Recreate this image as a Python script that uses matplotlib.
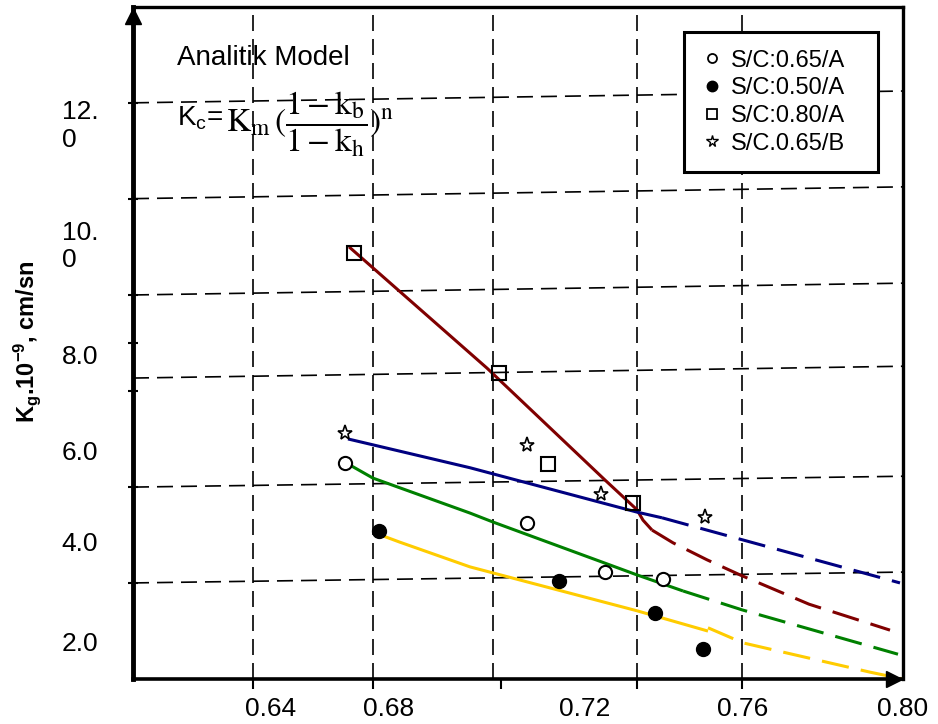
import matplotlib.pyplot as plt
from matplotlib.lines import Line2D

plt.rcParams['font.family'] = ['Liberation Sans', 'DejaVu Sans']
plt.rcParams['mathtext.fontset'] = 'custom'
plt.rcParams['mathtext.rm'] = 'Liberation Sans'
plt.rcParams['mathtext.it'] = 'Liberation Sans:italic'
plt.rcParams['mathtext.bf'] = 'Liberation Sans:bold'

# Deney noktalari
etiketler = ['S/C:0.65/A', 'S/C:0.50/A', 'S/C:0.80/A', 'S/C.0.65/B']
x_bos = [0.6605, 0.7060, 0.7255, 0.7400]
y_bos = [5.77, 4.50, 3.46, 3.31]
x_dolu = [0.6690, 0.7140, 0.7380, 0.7500]
y_dolu = [4.33, 3.27, 2.59, 1.83]
x_kare = [0.6628, 0.6990, 0.7113, 0.7325]
y_kare = [10.22, 7.68, 5.75, 4.92]
x_yildiz = [0.6605, 0.7060, 0.7245, 0.7505]
y_yildiz = [6.41, 6.15, 5.11, 4.63]

# Analitik model egrileri (duz kisim + kesikli uzanti)
x_kirmizi = [0.6615, 0.6960, 0.7255, 0.7335, 0.7350, 0.73725]
y_kirmizi = [10.35, 7.78, 5.41, 4.78, 4.56, 4.35]
x_kirmizi_k = [0.73725, 0.7425, 0.7510, 0.75925, 0.7765, 0.79675]
y_kirmizi_k = [4.35, 4.08, 3.72, 3.40, 2.78, 2.23]
x_mavi = [0.66125, 0.69175, 0.7335, 0.73975]
y_mavi = [6.28, 5.67, 4.73, 4.61]
x_mavi_k = [0.73975, 0.7600, 0.79925]
y_mavi_k = [4.61, 4.14, 3.23]
x_yesil = [0.66125, 0.6675, 0.69175, 0.6975, 0.7335, 0.7450]
y_yesil = [5.75, 5.45, 4.71, 4.52, 3.40, 3.06]
x_yesil_k = [0.7450, 0.75975, 0.79875]
y_yesil_k = [3.06, 2.66, 1.72]
x_sari = [0.66925, 0.6740, 0.69175, 0.7335, 0.75125]
y_sari = [4.25, 4.10, 3.57, 2.64, 2.21]
x_sari_k = [0.75125, 0.7600, 0.79175, 0.8000]
y_sari_k = [2.28, 1.96, 1.34, 1.195]

# Eksen etiketleri ve kilavuz cizgileri
x_etiket_yer = [0.6420, 0.6713, 0.7205, 0.7598, 0.8000]
x_etiket = ['0.64', '0.68', '0.72', '0.76', '0.80']
y_etiket_yer = [13.00, 10.45, 8.06, 6.04, 4.10, 1.98]
y_etiket = ['12.\n0', '10.\n0', '8.0', '6.0', '4.0', '2.0']
x_cizgi = [0.6375, 0.6675, 0.6995, 0.7335, 0.75975]
y_cizgi = [13.40, 11.37, 9.33, 8.31, 7.30, 5.26, 3.23]
x_izgara = [0.6375, 0.6675, 0.6975, 0.7335, 0.75975]
y_izgara_sol = [13.40, 11.37, 9.33, 7.57, 5.26, 3.23]
y_izgara_sag = [13.65, 11.62, 9.58, 7.82, 5.49, 3.46]

xmin, xmax = 0.6075, 0.80
ymin, ymax = 1.195, 15.43

fig = plt.figure(figsize=(9.38, 7.24), dpi=100)
ax = fig.add_axes([133 / 938, 45 / 724, 770 / 938, 672 / 724])
ax.set_xlim(xmin, xmax)
ax.set_ylim(ymin, ymax)

# izgara
for xv in x_izgara:
    ax.axvline(xv, color='black', lw=1.2, dashes=[9.6, 4.8], zorder=1)
for yl, yr in zip(y_izgara_sol, y_izgara_sag):
    ax.plot([xmin, xmax], [yl, yr], color='black', lw=1.2, dashes=[9.6, 4.8], zorder=1)

# model egrileri
renkler = ['#800000', '#000080', '#008000', '#FFCC00']
duz = [(x_kirmizi, y_kirmizi), (x_mavi, y_mavi), (x_yesil, y_yesil), (x_sari, y_sari)]
kesik = [(x_kirmizi_k, y_kirmizi_k), (x_mavi_k, y_mavi_k), (x_yesil_k, y_yesil_k), (x_sari_k, y_sari_k)]
for renk, (xs, ys), (xk, yk) in zip(renkler, duz, kesik):
    ax.plot(xs, ys, color=renk, lw=2.2, zorder=2, solid_capstyle='butt')
    ax.plot(xk, yk, color=renk, lw=2.2, dashes=[9, 4], zorder=2, clip_on=False)

# noktalar
ax.plot(x_bos, y_bos, 'o', ms=9.5, mfc='white', mec='black', mew=1.5, zorder=3)
ax.plot(x_dolu, y_dolu, 'o', ms=10, mfc='black', mec='black', zorder=3)
ax.plot(x_kare, y_kare, 's', ms=9.5, mfc='none', mec='black', mew=1.5, zorder=3)
ax.plot(x_yildiz, y_yildiz, '*', ms=11, mfc='white', mec='black', mew=1.2, zorder=3)

# eksenler
for s, lw in [('left', 3.5), ('bottom', 2.6), ('top', 2.4), ('right', 2.4)]:
    ax.spines[s].set_linewidth(lw)
ax.plot([0], [1 - 8.5 / 672], marker='^', ms=11, color='black',
        transform=ax.transAxes, clip_on=False, zorder=5)
ax.plot([1 - 9 / 770], [0], marker='>', ms=11, color='black',
        transform=ax.transAxes, clip_on=False, zorder=5)

ax.set_xticks(x_etiket_yer, x_etiket)
ax.set_yticks(y_etiket_yer, y_etiket)
ax.set_xticks(x_cizgi, minor=True)
ax.set_yticks(y_cizgi, minor=True)
ax.tick_params(axis='both', which='major', length=0, labelsize=19)
ax.tick_params(axis='x', which='major', pad=13)
ax.tick_params(axis='y', which='major', pad=25)
ax.tick_params(axis='x', which='minor', direction='out', length=7, width=1.5)
ax.tick_params(axis='y', which='minor', direction='inout', length=7, width=1.5)
for t in ax.get_yticklabels():
    t.set_multialignment('left')

# formul ve baslik
fig.text(177 / 938, 1 - 58 / 724, 'Analitik Model', fontsize=20, va='center', ha='left')
fig.text(177 / 938, 1 - 118 / 724, r'K$_{\mathrm{c}}$=', fontsize=20, va='center', ha='left')
fig.text(226 / 938, 1 - 124 / 724,
         r'$\mathrm{K}_{\mathrm{m}}\,(\dfrac{1-\mathrm{k}_{\mathrm{b}}}{1-\mathrm{k}_{\mathrm{h}}})^{\mathrm{n}}$',
         fontsize=24, va='center', ha='left', math_fontfamily='stix')

fig.text(27 / 938, 1 - 342 / 724, r'K$_{\mathbf{g}}$.10$^{\mathbf{-9}}$, cm/sn',
         fontsize=17, fontweight='bold', rotation=90, va='center', ha='center')

# lejant
tutamaklar = [
    Line2D([], [], ls='none', marker='o', ms=6.5, mfc='white', mec='black', mew=1.3),
    Line2D([], [], ls='none', marker='o', ms=7.5, mfc='black', mec='black'),
    Line2D([], [], ls='none', marker='s', ms=7, mfc='white', mec='black', mew=1.3),
    Line2D([], [], ls='none', marker='*', ms=8.5, mfc='white', mec='black', mew=1),
]
leg = ax.legend(tutamaklar, etiketler, loc='upper left', mode='expand',
                bbox_to_anchor=(684 / 938, 1 - 174 / 724, 194 / 938, 142 / 724),
                bbox_transform=fig.transFigure, borderaxespad=0, fontsize=17,
                borderpad=0.75, labelspacing=0.24, handlelength=0.88, handletextpad=0.37,
                fancybox=False, framealpha=1, edgecolor='black')
leg.get_frame().set_linewidth(2.2)
leg.set_zorder(6)

fig.savefig('out.png', dpi=100, facecolor='white')
